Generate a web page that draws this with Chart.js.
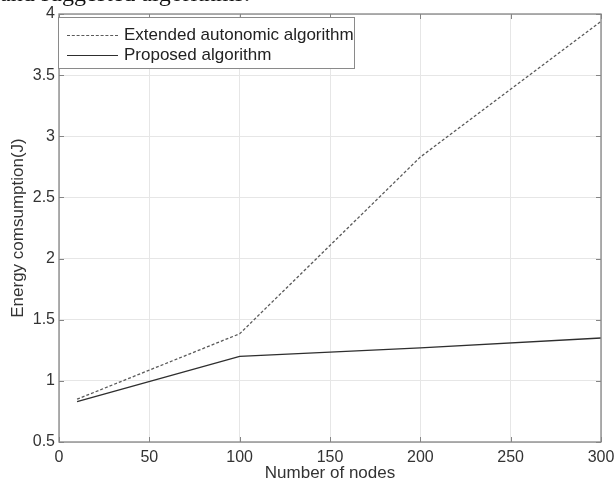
<!DOCTYPE html>
<html>
<head>
<meta charset="utf-8">
<script src="https://cdn.jsdelivr.net/npm/chart.js@4/dist/chart.umd.min.js"></script>
<style>
  html, body { margin: 0; padding: 0; background: #fff; }
  #wrap { position: relative; width: 616px; height: 484px; overflow: hidden; background: #fff; }
  #hdr { position: absolute; left: 0; top: -19px; font-family: "Liberation Serif", "Times New Roman", serif; font-size: 24px; line-height: 24px; color: #111; white-space: nowrap; }
  #legend { position: absolute; left: 58px; top: 17px; width: 297px; height: 52px; border: 1px solid #8a8a8a; background: #fff; box-sizing: border-box; font-family: "Liberation Sans", Arial, sans-serif; font-size: 17px; color: #222; }
  .row { position: absolute; left: 0; height: 20px; line-height: 20px; white-space: nowrap; }
  .sample { position: absolute; left: 8px; top: 10px; width: 51px; height: 0; }
  .lab { position: absolute; left: 65px; top: 0; }
</style>
</head>
<body>
<div id="wrap">
  <canvas id="c" width="616" height="484"></canvas>
  <div id="hdr">and suggested algorithms.</div>
  <div id="legend"></div>
</div>
<script>
const nodes = [10, 100, 200, 300];
const extendedAutonomic = [0.85, 1.385, 2.83, 3.94];
const proposedAlg = [0.83, 1.2, 1.27, 1.35];
const xTickValues = [0, 50, 100, 150, 200, 250, 300];
const yTickValues = [0.5, 1, 1.5, 2, 2.5, 3, 3.5, 4];
const seriesNames = ['Extended autonomic algorithm', 'Proposed algorithm'];

const FONT = '"Liberation Sans", Arial, sans-serif';
const seriesStyles = [
  { color: '#5a5a5a', dash: [3, 2], width: 1.3 },
  { color: '#2e2e2e', dash: [], width: 1.4 }
];

const datasets = [extendedAutonomic, proposedAlg].map((vals, i) => ({
  label: seriesNames[i],
  data: nodes.map((n, j) => ({ x: n, y: vals[j] })),
  borderColor: seriesStyles[i].color,
  borderDash: seriesStyles[i].dash,
  borderWidth: seriesStyles[i].width,
  pointRadius: 0,
  fill: false,
  tension: 0
}));

const frameColor = '#858585';

const boxPlugin = {
  id: 'box',
  afterDraw(chart) {
    const ctx = chart.ctx;
    const a = chart.chartArea;
    const xs = chart.scales.x, ys = chart.scales.y;
    ctx.save();
    ctx.strokeStyle = frameColor;
    ctx.lineWidth = 1.3;
    ctx.strokeRect(a.left, a.top, a.right - a.left, a.bottom - a.top);
    ctx.lineWidth = 1;
    const L = 5;
    ctx.beginPath();
    xTickValues.forEach(v => {
      const px = Math.round(xs.getPixelForValue(v)) + 0.5;
      ctx.moveTo(px, a.bottom); ctx.lineTo(px, a.bottom - L);
      ctx.moveTo(px, a.top); ctx.lineTo(px, a.top + L);
    });
    yTickValues.forEach(v => {
      const py = Math.round(ys.getPixelForValue(v)) + 0.5;
      ctx.moveTo(a.left, py); ctx.lineTo(a.left + L, py);
      ctx.moveTo(a.right, py); ctx.lineTo(a.right - L, py);
    });
    ctx.stroke();
    ctx.restore();
  }
};

new Chart(document.getElementById('c'), {
  type: 'line',
  data: { datasets },
  options: {
    responsive: false,
    animation: false,
    devicePixelRatio: 1,
    layout: { padding: { left: 8, top: 14, right: 15, bottom: 0 } },
    plugins: { legend: { display: false }, tooltip: { enabled: false } },
    scales: {
      x: {
        type: 'linear',
        min: 0, max: 300,
        afterBuildTicks: s => { s.ticks = xTickValues.map(v => ({ value: v })); },
        afterFit: s => { s.height = 42; s.paddingRight = 0; s.paddingLeft = 0; },
        grid: { color: '#e6e6e6', drawTicks: false, lineWidth: 1 },
        border: { display: false },
        ticks: { padding: 6, color: '#333', font: { family: FONT, size: 16 }, maxRotation: 0, callback: v => String(v) },
        title: { display: true, text: 'Number of nodes', color: '#333', font: { family: FONT, size: 17 }, padding: 0 }
      },
      y: {
        type: 'linear',
        min: 0.5, max: 4,
        afterBuildTicks: s => { s.ticks = yTickValues.map(v => ({ value: v })); },
        afterFit: s => { s.width = 51; s.paddingTop = 0; s.paddingBottom = 0; },
        grid: { color: '#e6e6e6', drawTicks: false, lineWidth: 1 },
        border: { display: false },
        ticks: { padding: 4, color: '#333', font: { family: FONT, size: 16 }, callback: v => String(v) },
        title: { display: true, text: 'Energy comsumption(J)', color: '#333', font: { family: FONT, size: 17 }, padding: 0 }
      }
    }
  },
  plugins: [boxPlugin]
});

// Legend (HTML overlay, built from the series names and styles)
const leg = document.getElementById('legend');
seriesNames.forEach((name, i) => {
  const row = document.createElement('div');
  row.className = 'row';
  row.style.top = (7 + i * 20) + 'px';
  row.style.width = '100%';
  const s = document.createElement('div');
  s.className = 'sample';
  s.style.borderTop = (i === 0 ? '1px dashed ' : '1.4px solid ') + seriesStyles[i].color;
  const t = document.createElement('div');
  t.className = 'lab';
  t.textContent = name;
  row.appendChild(s); row.appendChild(t);
  leg.appendChild(row);
});
</script>
</body>
</html>
